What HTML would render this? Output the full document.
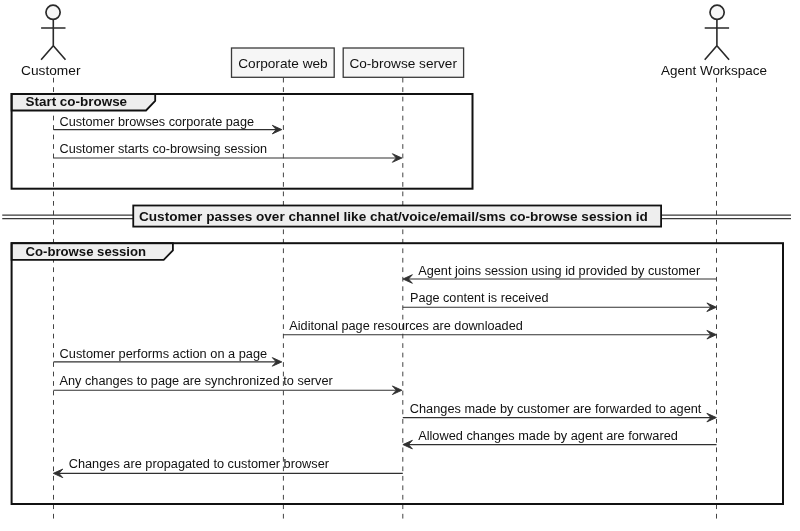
<!DOCTYPE html><html><head><meta charset="utf-8"><style>html,body{margin:0;padding:0;background:#fff;}svg{display:block;will-change:transform;}text{font-family:"Liberation Sans",sans-serif;}</style></head><body>
<svg width="800" height="531" viewBox="0 0 800 531">
<rect x="0" y="0" width="800" height="531" fill="#fff"/>
<line x1="53.5" y1="77.75" x2="53.5" y2="519" stroke="#444" stroke-width="1" stroke-dasharray="4.74 4.74"/>
<line x1="283.4" y1="77.75" x2="283.4" y2="519" stroke="#444" stroke-width="1" stroke-dasharray="4.74 4.74"/>
<line x1="402.8" y1="77.75" x2="402.8" y2="519" stroke="#444" stroke-width="1" stroke-dasharray="4.74 4.74"/>
<line x1="716.5" y1="77.75" x2="716.5" y2="519" stroke="#444" stroke-width="1" stroke-dasharray="4.74 4.74"/>
<circle cx="53.05" cy="12.3" r="7.1" fill="#f7f7f7" stroke="#2a2a2a" stroke-width="1.7"/>
<path d="M53.3 19.8 V45.7 M41.099999999999994 28 H65.5 M41.099999999999994 59.8 L53.3 45.7 L65.5 59.8" fill="none" stroke="#2a2a2a" stroke-width="1.6"/>
<circle cx="717.1" cy="12.3" r="7.1" fill="#f7f7f7" stroke="#2a2a2a" stroke-width="1.7"/>
<path d="M716.9 19.8 V45.7 M704.6999999999999 28 H729.1 M704.6999999999999 59.8 L716.9 45.7 L729.1 59.8" fill="none" stroke="#2a2a2a" stroke-width="1.6"/>
<text x="21" y="75" font-size="13.0" textLength="59.5" lengthAdjust="spacingAndGlyphs" fill="#111">Customer</text>
<text x="661" y="74.6" font-size="13.0" textLength="106.0" lengthAdjust="spacingAndGlyphs" fill="#111">Agent Workspace</text>
<rect x="231.5" y="48" width="102.7" height="29.3" fill="#f6f6f6" stroke="#3a3a3a" stroke-width="1.3"/>
<text x="238.2" y="67.7" font-size="13.0" textLength="89.5" lengthAdjust="spacingAndGlyphs" fill="#111">Corporate web</text>
<rect x="343.2" y="48" width="120.4" height="29.3" fill="#f6f6f6" stroke="#3a3a3a" stroke-width="1.3"/>
<text x="349.4" y="67.8" font-size="13.0" textLength="107.6" lengthAdjust="spacingAndGlyphs" fill="#111">Co-browse server</text>
<polygon points="11.6,94 155.2,94 155.2,101.0 146.0,110.5 11.6,110.5" fill="#eee" stroke="#111" stroke-width="1.8"/>
<text x="25.5" y="106.4" font-size="12.8" font-weight="bold" textLength="101.6" lengthAdjust="spacingAndGlyphs" fill="#111">Start co-browse</text>
<rect x="11.6" y="94" width="460.9" height="94.69999999999999" fill="none" stroke="#111" stroke-width="2"/>
<polygon points="11.6,243.2 172.9,243.2 172.9,250.39999999999998 163.70000000000002,259.9 11.6,259.9" fill="#eee" stroke="#111" stroke-width="1.8"/>
<text x="25.5" y="255.6" font-size="12.8" font-weight="bold" textLength="120.6" lengthAdjust="spacingAndGlyphs" fill="#111">Co-browse session</text>
<rect x="11.6" y="243.2" width="771.4" height="260.8" fill="none" stroke="#111" stroke-width="2"/>
<line x1="2.25" y1="215.1" x2="791" y2="215.1" stroke="#3a3a3a" stroke-width="1.3"/>
<line x1="2.25" y1="218.6" x2="791" y2="218.6" stroke="#3a3a3a" stroke-width="1.3"/>
<rect x="133.25" y="205.5" width="527.85" height="21.1" fill="#eee" stroke="#111" stroke-width="1.8"/>
<text x="139" y="220.6" font-size="12.8" font-weight="bold" textLength="508.8" lengthAdjust="spacingAndGlyphs" fill="#111">Customer passes over channel like chat/voice/email/sms co-browse session id</text>
<text x="59.5" y="125.6" font-size="12.0" textLength="194.5" lengthAdjust="spacingAndGlyphs" fill="#111">Customer browses corporate page</text>
<line x1="53.5" y1="129.6" x2="279.8" y2="129.6" stroke="#303030" stroke-width="1.1"/>
<polygon points="281.8,129.6 272.3,125.3 276.2,129.6 272.3,133.9" fill="#303030" stroke="#303030" stroke-width="0.9" stroke-linejoin="miter"/>
<text x="59.5" y="153.4" font-size="12.0" textLength="207.6" lengthAdjust="spacingAndGlyphs" fill="#111">Customer starts co-browsing session</text>
<line x1="53.5" y1="158.0" x2="399.9" y2="158.0" stroke="#303030" stroke-width="1.1"/>
<polygon points="401.9,158.0 392.4,153.7 396.29999999999995,158.0 392.4,162.3" fill="#303030" stroke="#303030" stroke-width="0.9" stroke-linejoin="miter"/>
<text x="418.2" y="274.5" font-size="12.0" textLength="282.0" lengthAdjust="spacingAndGlyphs" fill="#111">Agent joins session using id provided by customer</text>
<line x1="716.5" y1="279.0" x2="404.9" y2="279.0" stroke="#303030" stroke-width="1.1"/>
<polygon points="402.9,279.0 412.4,274.7 408.5,279.0 412.4,283.3" fill="#303030" stroke="#303030" stroke-width="0.9" stroke-linejoin="miter"/>
<text x="410" y="302.2" font-size="12.0" textLength="138.5" lengthAdjust="spacingAndGlyphs" fill="#111">Page content is received</text>
<line x1="402.8" y1="307.25" x2="714.4" y2="307.25" stroke="#303030" stroke-width="1.1"/>
<polygon points="716.4,307.25 706.9,302.95 710.8,307.25 706.9,311.55" fill="#303030" stroke="#303030" stroke-width="0.9" stroke-linejoin="miter"/>
<text x="289.3" y="330.1" font-size="12.0" textLength="233.5" lengthAdjust="spacingAndGlyphs" fill="#111">Aiditonal page resources are downloaded</text>
<line x1="283.4" y1="334.7" x2="714.4" y2="334.7" stroke="#303030" stroke-width="1.1"/>
<polygon points="716.4,334.7 706.9,330.4 710.8,334.7 706.9,339.0" fill="#303030" stroke="#303030" stroke-width="0.9" stroke-linejoin="miter"/>
<text x="59.6" y="357.6" font-size="12.0" textLength="207.6" lengthAdjust="spacingAndGlyphs" fill="#111">Customer performs action on a page</text>
<line x1="53.5" y1="361.9" x2="279.8" y2="361.9" stroke="#303030" stroke-width="1.1"/>
<polygon points="281.8,361.9 272.3,357.59999999999997 276.2,361.9 272.3,366.2" fill="#303030" stroke="#303030" stroke-width="0.9" stroke-linejoin="miter"/>
<text x="59.5" y="385.0" font-size="12.0" textLength="273.3" lengthAdjust="spacingAndGlyphs" fill="#111">Any changes to page are synchronized to server</text>
<line x1="53.5" y1="390.25" x2="399.9" y2="390.25" stroke="#303030" stroke-width="1.1"/>
<polygon points="401.9,390.25 392.4,385.95 396.29999999999995,390.25 392.4,394.55" fill="#303030" stroke="#303030" stroke-width="0.9" stroke-linejoin="miter"/>
<text x="409.8" y="413.3" font-size="12.0" textLength="291.6" lengthAdjust="spacingAndGlyphs" fill="#111">Changes made by customer are forwarded to agent</text>
<line x1="402.8" y1="417.6" x2="714.4" y2="417.6" stroke="#303030" stroke-width="1.1"/>
<polygon points="716.4,417.6 706.9,413.3 710.8,417.6 706.9,421.90000000000003" fill="#303030" stroke="#303030" stroke-width="0.9" stroke-linejoin="miter"/>
<text x="418.2" y="440.2" font-size="12.0" textLength="259.7" lengthAdjust="spacingAndGlyphs" fill="#111">Allowed changes made by agent are forwared</text>
<line x1="716.5" y1="444.6" x2="404.9" y2="444.6" stroke="#303030" stroke-width="1.1"/>
<polygon points="402.9,444.6 412.4,440.3 408.5,444.6 412.4,448.90000000000003" fill="#303030" stroke="#303030" stroke-width="0.9" stroke-linejoin="miter"/>
<text x="68.7" y="468.3" font-size="12.0" textLength="260.3" lengthAdjust="spacingAndGlyphs" fill="#111">Changes are propagated to customer browser</text>
<line x1="402.8" y1="473.35" x2="55.3" y2="473.35" stroke="#303030" stroke-width="1.1"/>
<polygon points="53.3,473.35 62.8,469.05 58.9,473.35 62.8,477.65000000000003" fill="#303030" stroke="#303030" stroke-width="0.9" stroke-linejoin="miter"/>
</svg></body></html>
